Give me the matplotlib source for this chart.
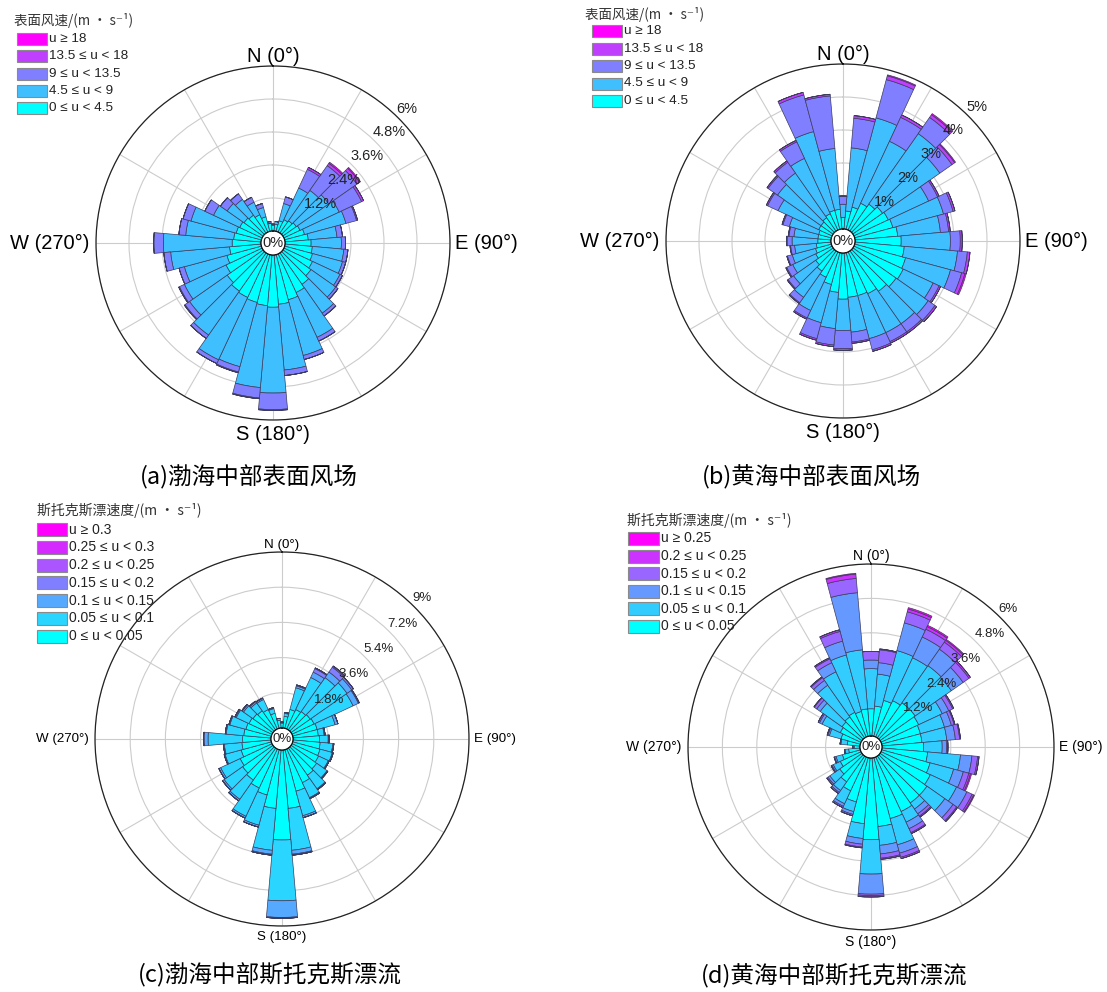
import numpy as np
import matplotlib
matplotlib.use("Agg")
import matplotlib.pyplot as plt
from matplotlib.patches import Rectangle

W, H = 1107, 992
CJK = ["Noto Sans CJK SC", "DejaVu Sans"]
LAT = ["Liberation Sans", "DejaVu Sans"]

DIRS = np.arange(0, 360, 10)   # sector centres, deg clockwise from N

# (a) Bohai, surface wind, frequency % per sector and speed class
A_BINS = ["0 \u2264 u < 4.5", "4.5 \u2264 u < 9", "9 \u2264 u < 13.5", "13.5 \u2264 u < 18", "u \u2265 18"]
A_U0 = [0.20, 0.25, 0.40, 0.50, 0.55, 0.60, 0.65, 0.75, 0.85, 0.95, 1.00, 1.05,
        1.15, 1.25, 1.40, 1.55, 1.70, 1.80, 1.90, 1.85, 1.80, 1.75, 1.70, 1.60,
        1.45, 1.30, 1.15, 1.05, 1.00, 0.95, 0.90, 0.85, 0.80, 0.70, 0.55, 0.28]
A_U1 = [0.05, 0.10, 0.65, 1.27, 1.35, 1.44, 1.57, 1.56, 1.05, 1.10, 1.15, 1.13,
        1.10, 1.10, 1.28, 1.80, 2.10, 2.40, 3.12, 2.99, 2.42, 2.50, 1.95, 1.67,
        1.67, 1.60, 2.15, 2.50, 1.75, 1.70, 1.05, 0.75, 0.70, 0.50, 0.35, 0.02]
A_U2 = [0.00, 0.00, 0.25, 0.75, 1.10, 1.25, 0.90, 0.40, 0.20, 0.15, 0.15, 0.12,
        0.10, 0.10, 0.12, 0.15, 0.15, 0.20, 0.60, 0.38, 0.20, 0.15, 0.15, 0.20,
        0.20, 0.20, 0.25, 0.35, 0.25, 0.30, 0.35, 0.30, 0.25, 0.20, 0.15, 0.05]
A_U3 = [0.00, 0.00, 0.00, 0.08, 0.10, 0.12, 0.08, 0.04, 0.00, 0.00, 0.00, 0.00,
        0.00, 0.00, 0.00, 0.00, 0.00, 0.00, 0.03, 0.03, 0.03, 0.00, 0.00, 0.03,
        0.03, 0.00, 0.00, 0.00, 0.00, 0.00, 0.00, 0.00, 0.00, 0.00, 0.00, 0.00]
A_U4 = [0.00, 0.00, 0.00, 0.00, 0.05, 0.04, 0.00, 0.00, 0.00, 0.00, 0.00, 0.00,
        0.00, 0.00, 0.00, 0.00, 0.00, 0.00, 0.00, 0.00, 0.00, 0.00, 0.00, 0.00,
        0.00, 0.00, 0.00, 0.00, 0.00, 0.00, 0.00, 0.00, 0.00, 0.00, 0.00, 0.00]

# (b) Yellow Sea, surface wind
B_BINS = A_BINS
B_U0 = [0.35, 0.55, 0.70, 0.90, 1.00, 1.10, 1.15, 1.20, 1.30, 1.40, 1.50, 1.60,
        1.65, 1.60, 1.50, 1.40, 1.35, 1.35, 1.40, 1.20, 1.00, 0.85, 0.75, 0.65,
        0.55, 0.50, 0.45, 0.40, 0.40, 0.40, 0.45, 0.45, 0.50, 0.55, 0.60, 0.60]
B_U1 = [0.40, 1.92, 2.80, 2.07, 2.61, 2.12, 1.35, 1.59, 1.30, 1.49, 1.62, 1.41,
        1.00, 1.19, 1.20, 1.30, 1.35, 1.06, 0.95, 1.10, 1.20, 1.11, 0.97, 0.82,
        0.77, 0.73, 0.66, 0.78, 0.73, 0.92, 1.36, 1.61, 1.65, 1.85, 2.47, 1.85]
B_U2 = [0.25, 0.90, 1.20, 0.80, 0.60, 0.45, 0.30, 0.30, 0.25, 0.30, 0.30, 0.35,
        0.20, 0.25, 0.30, 0.30, 0.35, 0.30, 0.55, 0.50, 0.50, 0.25, 0.20, 0.20,
        0.20, 0.15, 0.12, 0.15, 0.15, 0.20, 0.35, 0.35, 0.40, 0.55, 1.15, 1.60]
B_U3 = [0.00, 0.08, 0.12, 0.08, 0.10, 0.10, 0.05, 0.06, 0.05, 0.06, 0.08, 0.10,
        0.05, 0.06, 0.05, 0.05, 0.05, 0.04, 0.05, 0.05, 0.05, 0.04, 0.03, 0.03,
        0.03, 0.02, 0.02, 0.02, 0.02, 0.03, 0.04, 0.04, 0.05, 0.05, 0.08, 0.05]
B_U4 = [0.00, 0.00, 0.03, 0.00, 0.04, 0.03, 0.00, 0.00, 0.00, 0.00, 0.00, 0.04,
        0.00, 0.00, 0.00, 0.00, 0.00, 0.00, 0.00, 0.00, 0.00, 0.00, 0.00, 0.00,
        0.00, 0.00, 0.00, 0.00, 0.00, 0.00, 0.00, 0.00, 0.00, 0.00, 0.00, 0.00]

# (c) Bohai, Stokes drift
C_BINS = ["0 \u2264 u < 0.05", "0.05 \u2264 u < 0.1", "0.1 \u2264 u < 0.15",
          "0.15 \u2264 u < 0.2", "0.2 \u2264 u < 0.25", "0.25 \u2264 u < 0.3", "u \u2265 0.3"]
C_U0 = [0.25, 0.60, 1.00, 1.10, 1.15, 1.20, 1.25, 1.30, 1.30, 1.35, 1.40, 1.45,
        1.50, 1.60, 1.70, 1.90, 2.20, 3.00, 4.60, 3.00, 2.40, 2.20, 2.00, 1.90,
        1.80, 1.60, 1.50, 1.45, 1.40, 1.35, 1.30, 1.25, 1.20, 1.10, 0.80, 0.40]
C_U1 = [0.05, 0.15, 1.15, 1.81, 2.12, 2.30, 2.20, 0.95, 0.30, 0.45, 0.65, 0.65,
        0.55, 0.65, 0.85, 0.85, 1.30, 2.15, 3.11, 2.15, 1.60, 1.60, 1.20, 1.15,
        1.10, 0.85, 0.90, 1.77, 0.90, 0.85, 0.72, 0.59, 0.49, 0.57, 0.25, 0.10]
C_U2 = [0.00, 0.05, 0.10, 0.30, 0.35, 0.30, 0.30, 0.15, 0.05, 0.05, 0.05, 0.05,
        0.05, 0.05, 0.05, 0.05, 0.10, 0.20, 0.85, 0.20, 0.10, 0.10, 0.10, 0.10,
        0.10, 0.05, 0.05, 0.20, 0.05, 0.05, 0.05, 0.08, 0.08, 0.08, 0.05, 0.00]
C_U3 = [0.00, 0.00, 0.05, 0.20, 0.30, 0.10, 0.05, 0.00, 0.00, 0.00, 0.00, 0.00,
        0.00, 0.00, 0.00, 0.00, 0.00, 0.05, 0.04, 0.05, 0.00, 0.00, 0.00, 0.00,
        0.00, 0.00, 0.00, 0.03, 0.00, 0.00, 0.03, 0.03, 0.03, 0.00, 0.00, 0.00]
C_U4 = [0.00, 0.00, 0.00, 0.04, 0.06, 0.00, 0.00, 0.00, 0.00, 0.00, 0.00, 0.00,
        0.00, 0.00, 0.00, 0.00, 0.00, 0.00, 0.00, 0.00, 0.00, 0.00, 0.00, 0.00,
        0.00, 0.00, 0.00, 0.00, 0.00, 0.00, 0.00, 0.00, 0.00, 0.00, 0.00, 0.00]
C_U5 = [0.00, 0.00, 0.00, 0.00, 0.02, 0.00, 0.00, 0.00, 0.00, 0.00, 0.00, 0.00,
        0.00, 0.00, 0.00, 0.00, 0.00, 0.00, 0.00, 0.00, 0.00, 0.00, 0.00, 0.00,
        0.00, 0.00, 0.00, 0.00, 0.00, 0.00, 0.00, 0.00, 0.00, 0.00, 0.00, 0.00]
C_U6 = [0.00] * 36

# (d) Yellow Sea, Stokes drift
D_BINS = ["0 \u2264 u < 0.05", "0.05 \u2264 u < 0.1", "0.1 \u2264 u < 0.15",
          "0.15 \u2264 u < 0.2", "0.2 \u2264 u < 0.25", "u \u2265 0.25"]
D_U0 = [0.95, 1.05, 1.30, 1.40, 1.50, 1.50, 1.45, 1.40, 1.40, 1.45, 1.60, 1.75,
        1.90, 2.00, 2.00, 2.10, 2.20, 2.40, 2.85, 2.30, 1.60, 1.30, 1.10, 0.95,
        0.80, 0.65, 0.40, 0.20, 0.45, 0.70, 0.80, 0.85, 0.90, 0.95, 0.90, 0.95]
D_U1 = [1.40, 1.12, 1.80, 1.65, 1.58, 1.54, 0.91, 0.87, 0.87, 0.65, 1.15, 0.85,
        1.01, 0.76, 0.26, 0.41, 0.95, 0.66, 1.20, 0.52, 0.35, 0.50, 0.37, 0.42,
        0.27, 0.23, 0.12, 0.05, 0.22, 0.42, 0.70, 0.93, 1.35, 1.56, 2.04, 2.07]
D_U2 = [0.30, 0.40, 1.00, 0.80, 0.70, 0.50, 0.25, 0.25, 0.30, 0.15, 0.40, 0.35,
        0.40, 0.35, 0.20, 0.25, 0.30, 0.30, 0.70, 0.20, 0.10, 0.10, 0.08, 0.08,
        0.05, 0.05, 0.03, 0.00, 0.03, 0.05, 0.10, 0.15, 0.20, 0.35, 0.50, 2.00]
D_U3 = [0.30, 0.45, 0.40, 0.30, 0.30, 0.25, 0.15, 0.10, 0.15, 0.05, 0.20, 0.20,
        0.20, 0.15, 0.10, 0.15, 0.15, 0.15, 0.05, 0.10, 0.05, 0.05, 0.05, 0.05,
        0.03, 0.02, 0.00, 0.00, 0.00, 0.03, 0.05, 0.10, 0.12, 0.15, 0.35, 0.50]
D_U4 = [0.00, 0.03, 0.10, 0.10, 0.08, 0.06, 0.04, 0.03, 0.03, 0.00, 0.05, 0.06,
        0.06, 0.04, 0.04, 0.04, 0.05, 0.04, 0.05, 0.03, 0.00, 0.00, 0.00, 0.00,
        0.00, 0.00, 0.00, 0.00, 0.00, 0.00, 0.00, 0.02, 0.03, 0.04, 0.06, 0.15]
D_U5 = [0.00, 0.00, 0.05, 0.05, 0.04, 0.00, 0.00, 0.00, 0.00, 0.00, 0.00, 0.04,
        0.03, 0.00, 0.00, 0.00, 0.00, 0.00, 0.00, 0.00, 0.00, 0.00, 0.00, 0.00,
        0.00, 0.00, 0.00, 0.00, 0.00, 0.00, 0.00, 0.00, 0.00, 0.00, 0.00, 0.03]

WIND_TITLE = "表面风速/(m \u2022 s\u207b\u00b9)"
STOKES_TITLE = "斯托克斯漂速度/(m \u2022 s\u207b\u00b9)"

# leg = (title x, title y, box x, first box top, row pitch, box w, box h) in px
PANELS = [
    dict(cx=273, cy=243, R=177, hole=12, rmax=6, rings=[1.2, 2.4, 3.6, 4.8, 6],
         classes=[A_U0, A_U1, A_U2, A_U3, A_U4], bins=A_BINS, title=WIND_TITLE,
         leg=(14, 20, 17, 33, 17.3, 30, 12), dfs=14.5, rfs=10.5, lfs=9.7,
         caption="(a)渤海中部表面风场", cap=(249, 477)),
    dict(cx=843, cy=241, R=177, hole=12, rmax=5, rings=[1, 2, 3, 4, 5],
         classes=[B_U0, B_U1, B_U2, B_U3, B_U4], bins=B_BINS, title=WIND_TITLE,
         leg=(585, 14, 592, 25, 17.5, 30, 12), dfs=14.5, rfs=10.5, lfs=9.7,
         caption="(b)黄海中部表面风场", cap=(812, 477)),
    dict(cx=282, cy=739, R=187, hole=11, rmax=9, rings=[1.8, 3.6, 5.4, 7.2, 9],
         classes=[C_U0, C_U1, C_U2, C_U3, C_U4, C_U5, C_U6], bins=C_BINS,
         title=STOKES_TITLE, leg=(37, 510, 37, 523, 17.8, 30, 13),
         dfs=9.6, rfs=9.5, lfs=10.0,
         caption="(c)渤海中部斯托克斯漂流", cap=(270, 975)),
    dict(cx=871, cy=747, R=183, hole=11, rmax=6, rings=[1.2, 2.4, 3.6, 4.8, 6],
         classes=[D_U0, D_U1, D_U2, D_U3, D_U4, D_U5], bins=D_BINS,
         title=STOKES_TITLE, leg=(627, 520, 628, 532, 17.6, 31, 13),
         dfs=10.0, rfs=9.5, lfs=10.0,
         caption="(d)黄海中部斯托克斯漂流", cap=(834, 976)),
]

fig = plt.figure(figsize=(W / 100, H / 100), dpi=100)
cmap = plt.get_cmap("cool")


def fx(x):
    return x / W


def fy(y):
    return 1 - y / H


for p in PANELS:
    R, rmax = p["R"], p["rmax"]
    ax = fig.add_axes([fx(p["cx"] - R), fy(p["cy"] + R), 2 * R / W, 2 * R / H],
                      projection="polar")
    ax.set_theta_zero_location("N")
    ax.set_theta_direction(-1)
    ax.set_ylim(0, rmax)
    ax.set_rorigin(-p["hole"] / (R - p["hole"]) * rmax)
    ax.set_axisbelow(True)
    ax.set_xticks(np.deg2rad(np.arange(0, 360, 30)))
    ax.set_xticklabels([])
    ax.set_yticks(p["rings"])
    ax.set_yticklabels([])
    ax.grid(True, color="#cccccc", lw=0.8)
    ax.spines["polar"].set_color("#222222")
    ax.spines["polar"].set_linewidth(0.9)

    n = len(p["classes"])
    colors = [cmap(t) for t in np.linspace(0, 1, n)]
    theta = np.deg2rad(DIRS)
    bottom = np.zeros(len(DIRS))
    for vals, col in zip(p["classes"], colors):
        vals = np.asarray(vals)
        ax.bar(theta, vals, width=np.deg2rad(10), bottom=bottom, color=col,
               edgecolor="#3c3c5c", linewidth=0.5, zorder=2)
        bottom = bottom + vals

    # inner hole outline
    tt = np.linspace(0, 2 * np.pi, 200)
    ax.plot(tt, np.zeros_like(tt), color="#222222", lw=0.9, zorder=3)

    # ring labels
    for r in p["rings"]:
        ax.text(np.deg2rad(44), r, f"{r:g}%", ha="left", va="bottom",
                fontsize=p["rfs"], family=LAT, color="#222222", zorder=4)
    ax.text(0.5, 0.5, "0%", transform=ax.transAxes, ha="center", va="center",
            fontsize=p["rfs"], family=LAT, color="#222222", zorder=4)

    # compass labels
    g = 4 / (2 * R)
    ax.text(0.5, 1 + g, "N (0\u00b0)", transform=ax.transAxes, ha="center",
            va="baseline", fontsize=p["dfs"], family=LAT)
    ax.text(1 + 1.2 * g, 0.5, "E (90\u00b0)", transform=ax.transAxes, ha="left",
            va="center", fontsize=p["dfs"], family=LAT)
    ax.text(0.5, -1.2 * g, "S (180\u00b0)", transform=ax.transAxes, ha="center",
            va="top", fontsize=p["dfs"], family=LAT)
    ax.text(-1.6 * g, 0.5, "W (270\u00b0)", transform=ax.transAxes, ha="right",
            va="center", fontsize=p["dfs"], family=LAT)

    # legend, highest class on top
    tx, ty, bx, by, pitch, bw, bh = p["leg"]
    fig.text(fx(tx), fy(ty), p["title"], ha="left", va="center",
             fontsize=p["lfs"], family=CJK, color="#333333")
    for k, (lab, col) in enumerate(zip(p["bins"][::-1], colors[::-1])):
        y0 = by + k * pitch
        fig.patches.append(Rectangle((fx(bx), fy(y0 + bh)), bw / W, bh / H,
                                     transform=fig.transFigure, facecolor=col,
                                     edgecolor="#8a8a8a", linewidth=0.8))
        fig.text(fx(bx + bw + 2), fy(y0 + bh / 2), lab, ha="left", va="center",
                 fontsize=p["lfs"], family=LAT, color="#222222")

    fig.text(fx(p["cap"][0]), fy(p["cap"][1]), p["caption"], ha="center",
             va="center", fontsize=17, family=CJK)

fig.savefig("out.png", dpi=100)
